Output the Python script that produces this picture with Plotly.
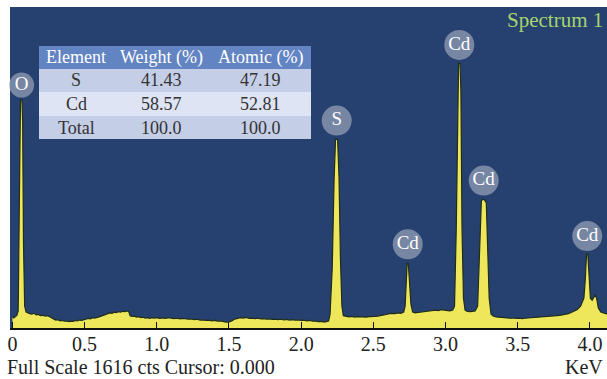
import plotly.graph_objects as go

# ---- spectrum data (keV, counts) ----
energy_kev = [
    0.000, 0.010, 0.020, 0.030,
    0.040, 0.047, 0.052, 0.056, 0.066, 0.071, 0.077, 0.085,
    0.095, 0.105, 0.120, 0.135, 0.150, 0.165, 0.180, 0.195, 0.210, 0.225, 0.240, 0.255,
    0.270, 0.285, 0.300, 0.315, 0.330, 0.345, 0.360, 0.375, 0.390, 0.405, 0.420, 0.435,
    0.450, 0.465, 0.480, 0.495, 0.510, 0.525, 0.540, 0.555, 0.570, 0.585, 0.600, 0.615,
    0.630, 0.645, 0.660, 0.675, 0.690, 0.705, 0.720, 0.735, 0.750, 0.765, 0.780, 0.795,
    0.805, 0.815, 0.830, 0.845, 0.860, 0.875, 0.890, 0.905, 0.920, 0.935, 0.950, 0.965,
    0.980, 1.000, 1.020, 1.040, 1.060, 1.080, 1.100, 1.120, 1.140, 1.160, 1.180, 1.200,
    1.220, 1.240, 1.260, 1.280, 1.300, 1.320, 1.340, 1.360, 1.380, 1.400, 1.420, 1.440,
    1.460, 1.480, 1.500, 1.520, 1.540, 1.560, 1.580, 1.600, 1.620, 1.640, 1.660, 1.680,
    1.700, 1.720, 1.740, 1.760, 1.780, 1.800, 1.820, 1.840, 1.860, 1.880, 1.900, 1.920,
    1.940, 1.960, 1.980, 2.000, 2.020, 2.040, 2.060, 2.080, 2.100, 2.120, 2.140, 2.160,
    2.180, 2.190,
    2.200, 2.215, 2.228, 2.238, 2.252, 2.262, 2.272, 2.282, 2.292,
    2.310, 2.330, 2.350, 2.370, 2.390, 2.410, 2.430, 2.450, 2.470, 2.490, 2.510, 2.530,
    2.550, 2.570, 2.590, 2.610, 2.630, 2.650, 2.670, 2.690, 2.710,
    2.720, 2.728, 2.734, 2.742, 2.750, 2.760, 2.772,
    2.790, 2.810, 2.830, 2.850, 2.870, 2.890, 2.910, 2.930, 2.950, 2.970, 2.990, 3.010,
    3.030, 3.050,
    3.062, 3.074, 3.084, 3.090, 3.100, 3.106, 3.114, 3.124, 3.135,
    3.150, 3.170, 3.190, 3.205,
    3.222, 3.236, 3.248, 3.258, 3.270, 3.282, 3.292, 3.302, 3.315,
    3.330, 3.350, 3.370, 3.390, 3.410, 3.430, 3.450, 3.470, 3.490, 3.510, 3.530, 3.550,
    3.570, 3.590, 3.610, 3.630, 3.650, 3.670, 3.690, 3.710, 3.730, 3.750, 3.770, 3.790,
    3.810, 3.830, 3.850, 3.870, 3.890, 3.910,
    3.935, 3.958, 3.968, 3.976, 3.985, 3.993, 4.003, 4.015,
    4.028, 4.038, 4.046, 4.058, 4.075, 4.090, 4.110, 4.130,
]
counts = [
    55, 50, 58, 62,
    85, 500, 1080, 1150, 1148, 1040, 420, 110,
    80, 76, 72, 70, 74, 66, 68, 62, 64, 60, 62, 58,
    50, 46, 40, 42, 36, 38, 34, 36, 32, 35, 33, 38,
    36, 40, 38, 42, 44, 48, 46, 52, 50, 55, 56, 60,
    64, 70, 72, 76, 74, 80, 78, 82, 80, 84, 82, 86,
    84, 62, 58, 60, 55, 57, 52, 54, 50, 52, 48, 52,
    50, 52, 49, 51, 48, 52, 50, 47, 49, 46, 48, 45,
    44, 46, 42, 44, 40, 41, 38, 40, 36, 38, 35, 36,
    33, 29, 31, 36, 45, 50, 52, 50, 53, 48, 50, 47,
    49, 46, 47, 44, 46, 43, 45, 42, 44, 41, 43, 40,
    42, 39, 41, 38, 40, 36, 38, 34, 35, 32, 33, 30,
    32, 35,
    70, 300, 750, 950, 950, 760, 350, 110, 62,
    58, 56, 58, 55, 57, 56, 58, 55, 57, 56, 58, 60,
    62, 64, 68, 72, 74, 72, 76, 74, 80,
    110, 250, 325, 325, 250, 120, 80,
    76, 78, 80, 82, 84, 86, 88, 90, 88, 92, 90, 88,
    86, 90,
    110, 500, 1250, 1332, 1332, 1200, 500, 150, 90,
    84, 82, 84, 86,
    110, 400, 640, 648, 645, 630, 400, 150, 70,
    60, 56, 55, 52, 50, 52, 49, 51, 48, 50, 47, 49,
    50, 52, 51, 53, 54, 55, 56, 58, 57, 60, 62, 64,
    66, 68, 72, 78, 84, 92,
    110, 150, 250, 372, 372, 250, 150, 140,
    155, 168, 150, 100, 80, 76, 72, 70,
]

# ---- peak labels ----
peak_labels = ["O", "S", "Cd", "Cd", "Cd", "Cd"]
peak_kev = [0.064, 2.246, 2.738, 3.095, 3.264, 3.981]
peak_label_counts = [1223, 1044, 421, 1425, 742, 463]
peak_marker_size = [25, 30, 30, 30, 30, 30]

# ---- axis ticks ----
tick_vals = [0, 0.5, 1.0, 1.5, 2.0, 2.5, 3.0, 3.5, 4.0]
tick_text = ["0", "0.5", "1.0", "1.5", "2.0", "2.5", "3.0", "3.5", "4.0"]

# ---- composition table ----
table_header = ["Element", "Weight (%)", "Atomic (%)"]
elements = ["S", "Cd", "Total"]
weight_pct = ["41.43", "58.57", "100.0"]
atomic_pct = ["47.19", "52.81", "100.0"]

full_scale = 1616
SERIF = "Liberation Serif"
NAVY = "#26416f"
YELLOW = "#eee75b"

# figure geometry (px) used only to place overlay items in paper coords
W, H = 607, 379
ML, MR, MT, MB = 10, 0, 7, 51
PW, PH = W - ML - MR, H - MT - MB


def px_x(px):
    return (px - ML) / PW


def px_y(py):
    return (H - MB - py) / PH


fig = go.Figure()

fig.add_trace(go.Scatter(
    x=energy_kev, y=counts, mode="lines",
    line=dict(color="#1f2d1a", width=1.2),
    fill="tozeroy", fillcolor=YELLOW,
    hoverinfo="skip", showlegend=False,
))

fig.add_trace(go.Scatter(
    x=peak_kev, y=peak_label_counts, mode="markers+text",
    text=peak_labels, textposition="middle center",
    textfont=dict(family=SERIF, size=19, color="white"),
    marker=dict(size=peak_marker_size, color="#98a4b9", line=dict(width=0)),
    cliponaxis=False, hoverinfo="skip", showlegend=False,
))

# table drawn as rectangles + text
col_edges = [39, 113, 210, 311]
row_edges = [46, 69, 92, 116, 139]
row_fill = ["#6384c3", "#c4cee6", "#dee4f3", "#c4cee6"]
table_rows = [table_header] + [list(r) for r in zip(elements, weight_pct, atomic_pct)]
for ri, row in enumerate(table_rows):
    fig.add_shape(
        type="rect", xref="paper", yref="paper", layer="above",
        x0=px_x(col_edges[0]), x1=px_x(col_edges[-1]),
        y0=px_y(row_edges[ri + 1]), y1=px_y(row_edges[ri]),
        fillcolor=row_fill[ri], line=dict(width=0),
    )
    for ci, txt in enumerate(row):
        fig.add_annotation(
            text=txt, xref="paper", yref="paper", showarrow=False,
            x=px_x((col_edges[ci] + col_edges[ci + 1]) / 2),
            y=px_y((row_edges[ri] + row_edges[ri + 1]) / 2),
            xanchor="center", yanchor="middle",
            font=dict(family=SERIF, size=18,
                      color="white" if ri == 0 else "#333333"),
        )

fig.add_annotation(
    text="Spectrum 1", xref="paper", yref="paper", x=px_x(605), y=px_y(20),
    xanchor="right", yanchor="middle", showarrow=False,
    font=dict(family=SERIF, size=21, color="#a6d46e"),
)
fig.add_annotation(
    text=f"Full Scale {full_scale} cts Cursor: 0.000", xref="paper", yref="paper",
    x=px_x(5), y=px_y(367), xanchor="left", yanchor="middle", showarrow=False,
    font=dict(family=SERIF, size=20, color="#222222"),
)
fig.add_annotation(
    text="KeV", xref="paper", yref="paper", x=px_x(605), y=px_y(367),
    xanchor="right", yanchor="middle", showarrow=False,
    font=dict(family=SERIF, size=20, color="#222222"),
)

fig.update_layout(
    width=W, height=H, autosize=False,
    margin=dict(l=ML, r=MR, t=MT, b=MB, pad=0),
    paper_bgcolor="white", plot_bgcolor=NAVY,
    xaxis=dict(
        range=[-0.0166, 4.118], tickvals=tick_vals, ticktext=tick_text,
        ticks="inside", ticklen=6, tickwidth=1.2, tickcolor="#111111",
        showline=True, linecolor="#111111", linewidth=1.5,
        showgrid=False, zeroline=False, ticklabelstandoff=-3,
        tickfont=dict(family=SERIF, size=20, color="#222222"),
    ),
    yaxis=dict(
        range=[0, full_scale], showticklabels=False, showgrid=False,
        zeroline=False, showline=False, ticks="",
    ),
)

fig.write_html("out.html")
